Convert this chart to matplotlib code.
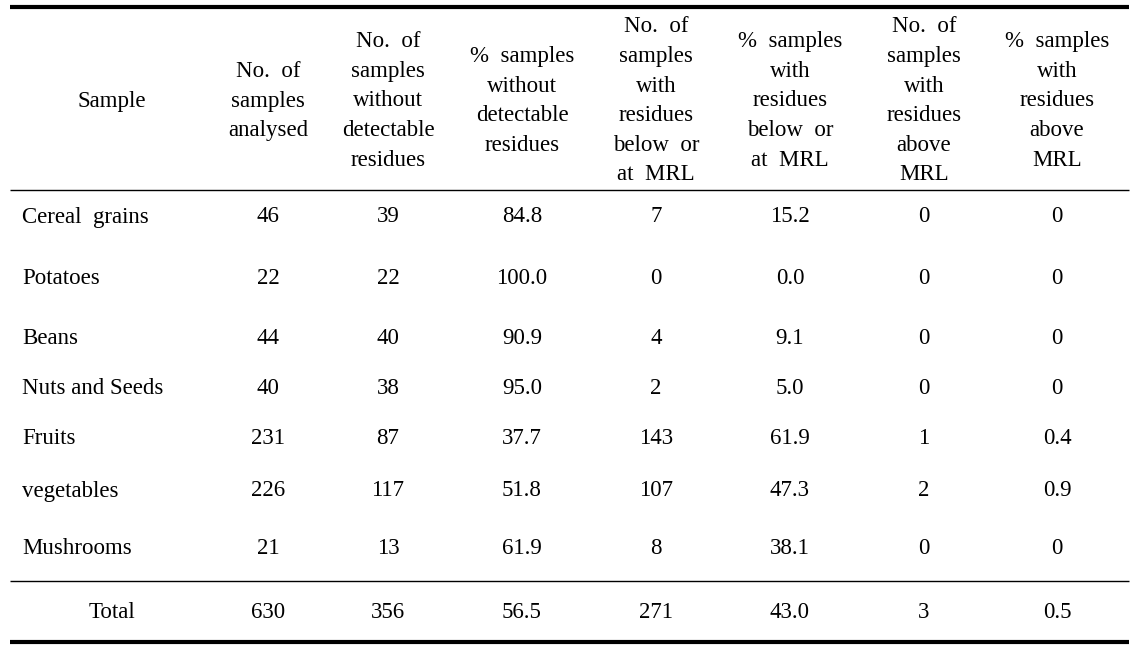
import matplotlib.pyplot as plt

plt.rcParams['font.family'] = ['Liberation Serif', 'DejaVu Serif']

headers = [
    ['Sample'],
    ['No.  of', 'samples', 'analysed'],
    ['No.  of', 'samples', 'without', 'detectable', 'residues'],
    ['%  samples', 'without', 'detectable', 'residues'],
    ['No.  of', 'samples', 'with', 'residues', 'below  or', 'at  MRL'],
    ['%  samples', 'with', 'residues', 'below  or', 'at  MRL'],
    ['No.  of', 'samples', 'with', 'residues', 'above', 'MRL'],
    ['%  samples', 'with', 'residues', 'above', 'MRL'],
]

samples = ['Cereal  grains', 'Potatoes', 'Beans', 'Nuts and Seeds',
           'Fruits', 'vegetables', 'Mushrooms']
n_analysed = ['46', '22', '44', '40', '231', '226', '21']
n_none = ['39', '22', '40', '38', '87', '117', '13']
pct_none = ['84.8', '100.0', '90.9', '95.0', '37.7', '51.8', '61.9']
n_below = ['7', '0', '4', '2', '143', '107', '8']
pct_below = ['15.2', '0.0', '9.1', '5.0', '61.9', '47.3', '38.1']
n_above = ['0', '0', '0', '0', '1', '2', '0']
pct_above = ['0', '0', '0', '0', '0.4', '0.9', '0']

total_row = ['Total', '630', '356', '56.5', '271', '43.0', '3', '0.5']

# layout in pixels
col_x = [112, 268, 388, 522, 656, 790, 924, 1057]
row_y = [217, 278, 338, 389, 439, 491, 548]
total_y = 613
header_y = 101
line_gap = 29.6
fs = 16.5

fig = plt.figure(figsize=(11.38, 6.55), dpi=100)
ax = fig.add_axes([0, 0, 1, 1])
ax.set_xlim(0, 1138)
ax.set_ylim(655, 0)
ax.axis('off')

# rules
ax.plot([10, 1129], [6.5, 6.5], color='black', lw=3.0, solid_capstyle='butt')
ax.plot([10, 1129], [190, 190], color='black', lw=1.0, solid_capstyle='butt')
ax.plot([10, 1129], [581, 581], color='black', lw=1.0, solid_capstyle='butt')
ax.plot([10, 1129], [642, 642], color='black', lw=3.0, solid_capstyle='butt')

# header, each line placed separately
for x, lines in zip(col_x, headers):
    n = len(lines)
    for i, t in enumerate(lines):
        y = header_y + (i - (n - 1) / 2) * line_gap
        ax.text(x, y, t, ha='center', va='center', fontsize=fs)

columns = [n_analysed, n_none, pct_none, n_below, pct_below, n_above, pct_above]
for r, y in enumerate(row_y):
    ax.text(22, y, samples[r], ha='left', va='center', fontsize=fs)
    for c, col in enumerate(columns):
        ax.text(col_x[c + 1], y, col[r], ha='center', va='center', fontsize=fs)

for c, t in enumerate(total_row):
    ax.text(col_x[c], total_y, t, ha='center', va='center', fontsize=fs)

fig.savefig('out.png', dpi=100)
